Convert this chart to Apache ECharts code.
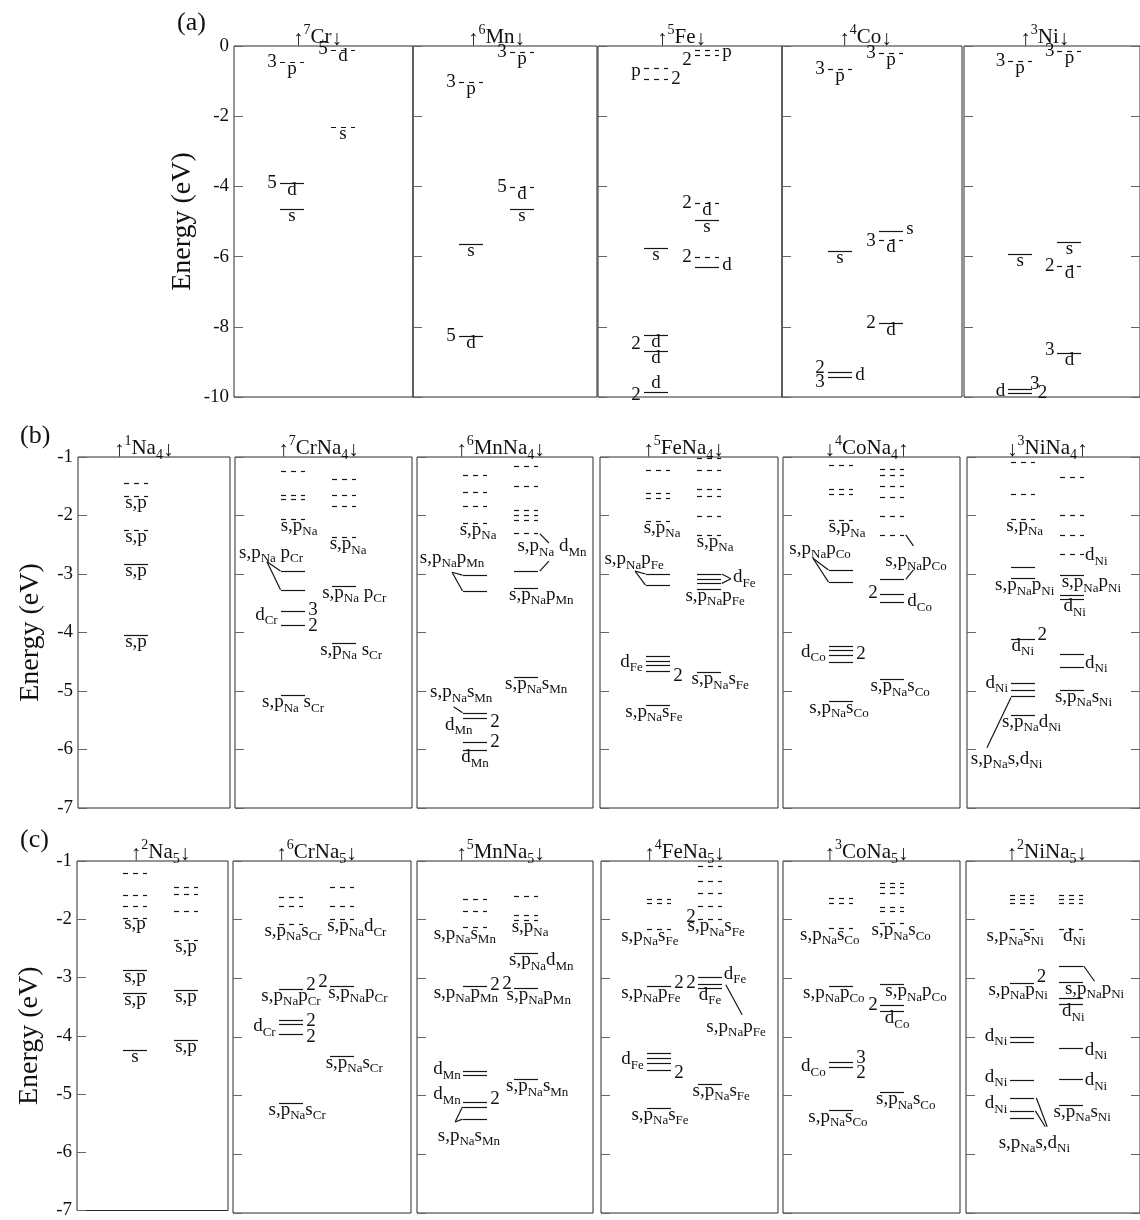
<!DOCTYPE html>
<html><head><meta charset="utf-8">
<script src="https://cdn.jsdelivr.net/npm/echarts@6/dist/echarts.min.js"></script>
<style>html,body{margin:0;padding:0;background:#fff}#c{width:1140px;height:1220px}</style>
</head><body><div id="c"></div>
<script>
// ---------- DATA: levels [spin column, energy (eV), dashed(1)/solid(0)] ----------
// ---------- labels [column, energy, text, place], links [c1,E1,c2,E2] ----------
const titlesA = ['~{↑}^{7}Cr~{↓}', '~{↑}^{6}Mn~{↓}', '~{↑}^{5}Fe~{↓}', '~{↑}^{4}Co~{↓}', '~{↑}^{3}Ni~{↓}'];
const titlesB = ['~{↑}^{1}Na_{4}~{↓}', '~{↑}^{7}CrNa_{4}~{↓}', '~{↑}^{6}MnNa_{4}~{↓}', '~{↑}^{5}FeNa_{4}~{↓}', '~{↓}^{4}CoNa_{4}~{↑}', '~{↓}^{3}NiNa_{4}~{↑}'];
const titlesC = ['~{↑}^{2}Na_{5}~{↓}', '~{↑}^{6}CrNa_{5}~{↓}', '~{↑}^{5}MnNa_{5}~{↓}', '~{↑}^{4}FeNa_{5}~{↓}', '~{↑}^{3}CoNa_{5}~{↓}', '~{↑}^{2}NiNa_{5}~{↓}'];
const ticksA = [-10, 0, 2];
const ticksBC = [-7, -1, 1];

// (a) atoms
const a_Cr_lv = [[0,-0.47,1],[1,-0.10,1],[1,-2.30,1],[0,-3.90,0],[0,-4.65,0]];
const a_Cr_lb = [[-0.3,-0.47,'3','l'],[0,-0.47,'p','b'],[0.7,-0.10,'5','l'],[1,-0.10,'d','b'],[1,-2.30,'s','b'],[-0.3,-3.90,'5','l'],[0,-3.90,'d','b'],[0,-4.65,'s','b']];
const a_Mn_lv = [[1,-0.16,1],[0,-1.03,1],[1,-4.03,1],[1,-4.65,0],[0,-5.65,0],[0,-8.27,0]];
const a_Mn_lb = [[0.7,-0.16,'3','l'],[1,-0.16,'p','b'],[-0.3,-1.03,'3','l'],[0,-1.03,'p','b'],[0.7,-4.03,'5','l'],[1,-4.03,'d','b'],[1,-4.65,'s','b'],[0,-5.65,'s','b'],[-0.3,-8.27,'5','l'],[0,-8.27,'d','b']];
const a_Fe_lv = [[1,-0.11,1],[1,-0.26,1],[0,-0.63,1],[0,-0.94,1],[1,-4.48,1],[1,-4.96,0],[0,-5.76,0],[1,-6.02,1],[1,-6.29,0],[0,-8.23,0],[0,-8.68,0],[0,-9.85,0]];
const a_Fe_lb = [[0.7,-0.40,'2','l'],[1.3,-0.18,'p','r'],[-0.3,-0.72,'p','l'],[0.3,-0.94,'2','r'],[0.7,-4.48,'2','l'],[1,-4.48,'d','b'],[1,-4.96,'s','b'],[0,-5.76,'s','b'],[0.7,-6.02,'2','l'],[1.3,-6.25,'d','r'],[-0.3,-8.50,'2','l'],[0,-8.23,'d','b'],[0,-8.68,'d','b'],[-0.3,-9.95,'2','l'],[0,-9.85,'d','a']];
const a_Co_lv = [[1,-0.20,1],[0,-0.66,1],[1,-5.27,0],[1,-5.53,1],[0,-5.84,0],[1,-7.90,0],[0,-9.29,0],[0,-9.43,0]];
const a_Co_lb = [[0.7,-0.20,'3','l'],[1,-0.20,'p','b'],[-0.3,-0.66,'3','l'],[0,-0.66,'p','b'],[1.3,-5.20,'s','r'],[0.7,-5.57,'3','l'],[1,-5.53,'d','b'],[0,-5.84,'s','b'],[0.7,-7.90,'2','l'],[1,-7.90,'d','b'],[-0.3,-9.16,'2','l'],[-0.3,-9.56,'3','l'],[0.3,-9.36,'d','r']];
const a_Ni_lv = [[0,-0.43,1],[1,-0.14,1],[0,-5.93,0],[1,-5.58,0],[1,-6.26,1],[1,-8.75,0],[0,-9.76,0],[0,-9.88,0]];
const a_Ni_lb = [[-0.3,-0.43,'3','l'],[0,-0.43,'p','b'],[0.7,-0.14,'3','l'],[1,-0.14,'p','b'],[0,-5.93,'s','b'],[1,-5.58,'s','b'],[0.7,-6.26,'2','l'],[1,-6.26,'d','b'],[0.7,-8.65,'3','l'],[1,-8.75,'d','b'],[-0.3,-9.84,'d','l'],[0.2,-9.62,'3','r'],[0.36,-9.88,'2','r']];

// (b) TMNa4
const b_Na_lv = [[0,-1.44,1],[0,-1.67,1],[0,-2.25,1],[0,-2.83,0],[0,-4.04,0]];
const b_Na_lb = [[0,-1.67,'s,p','b'],[0,-2.25,'s,p','b'],[0,-2.83,'s,p','b'],[0,-4.04,'s,p','b']];
const b_Cr_lv = [[0,-1.24,1],[0,-1.65,1],[0,-1.72,1],[0,-2.06,1],[0,-2.95,0],[0,-3.27,0],[0,-3.64,0],[0,-3.87,0],[0,-5.07,0],[1,-1.38,1],[1,-1.65,1],[1,-1.84,1],[1,-2.37,1],[1,-3.20,0],[1,-4.18,0]];
const b_Cr_lb = [[0.12,-2.06,'s,p_{Na}','b'],[-0.43,-2.64,'s,p_{Na} p_{Cr}','c'],[0.3,-3.62,'3','r'],[0.3,-3.89,'2','r'],[-0.3,-3.70,'d_{Cr}','l'],[0,-5.07,'s,p_{Na} s_{Cr}','b'],[1.08,-2.37,'s,p_{Na}','b'],[1.2,-3.20,'s,p_{Na} p_{Cr}','b'],[1.14,-4.18,'s,p_{Na} s_{Cr}','b']];
const b_Cr_lk = [[-0.51,-2.79,-0.245,-2.95],[-0.51,-2.79,-0.245,-3.27]];
const b_Mn_lv = [[0,-1.31,1],[0,-1.60,1],[0,-1.84,1],[0,-2.12,1],[0,-3.02,0],[0,-3.29,0],[0,-5.38,0],[0,-5.47,0],[0,-5.87,0],[0,-6.01,0],[1,-1.15,1],[1,-1.49,1],[1,-1.90,1],[1,-1.99,1],[1,-2.08,1],[1,-2.30,1],[1,-2.95,0],[1,-3.24,0],[1,-4.76,0]];
const b_Mn_lb = [[0.06,-2.12,'s,p_{Na}','b'],[-0.45,-2.72,'s,p_{Na}p_{Mn}','c'],[-0.27,-5.02,'s,p_{Na}s_{Mn}','c'],[-0.05,-5.58,'d_{Mn}','l'],[0.3,-5.53,'2','r'],[0.3,-5.87,'2','r'],[0,-6.01,'d_{Mn}','b'],[1.51,-2.53,'s,p_{Na} d_{Mn}','c'],[1.3,-3.24,'s,p_{Na}p_{Mn}','b'],[1.2,-4.76,'s,p_{Na}s_{Mn}','b']];
const b_Mn_lk = [[-0.45,-2.97,-0.245,-3.02],[-0.45,-2.97,-0.245,-3.29],[-0.42,-5.27,-0.245,-5.37],[1.27,-2.31,1.45,-2.47],[1.27,-2.95,1.45,-2.78]];
const b_Fe_lv = [[0,-1.22,1],[0,-1.62,1],[0,-1.70,1],[0,-2.09,1],[0,-3.00,0],[0,-3.19,0],[0,-4.40,0],[0,-4.48,0],[0,-4.56,0],[0,-4.66,0],[0,-5.24,0],[1,-1.02,1],[1,-1.22,1],[1,-1.55,1],[1,-1.67,1],[1,-2.01,1],[1,-2.33,1],[1,-3.00,0],[1,-3.08,0],[1,-3.16,0],[1,-3.25,0],[1,-4.68,0]];
const b_Fe_lb = [[0.08,-2.09,'s,p_{Na}','b'],[-0.47,-2.75,'s,p_{Na}p_{Fe}','c'],[-0.3,-4.50,'d_{Fe}','l'],[0.3,-4.74,'2','r'],[-0.08,-5.24,'s,p_{Na}s_{Fe}','b'],[1.12,-2.33,'s,p_{Na}','b'],[1.47,-3.06,'d_{Fe}','r'],[1.12,-3.25,'s,p_{Na}p_{Fe}','b'],[1.22,-4.68,'s,p_{Na}s_{Fe}','b']];
const b_Fe_lk = [[-0.45,-2.95,-0.245,-3.00],[-0.45,-2.95,-0.245,-3.19],[1.25,-3.00,1.43,-3.08],[1.25,-3.16,1.43,-3.08]];
const b_Co_lv = [[0,-1.14,1],[0,-1.55,1],[0,-1.63,1],[0,-2.08,1],[0,-2.93,0],[0,-3.14,0],[0,-4.23,0],[0,-4.30,0],[0,-4.38,0],[0,-4.50,0],[0,-5.17,0],[1,-1.21,1],[1,-1.30,1],[1,-1.50,1],[1,-1.69,1],[1,-2.01,1],[1,-2.33,1],[1,-3.09,0],[1,-3.34,0],[1,-3.48,0],[1,-4.80,0]];
const b_Co_lb = [[0.12,-2.08,'s,p_{Na}','b'],[-0.41,-2.57,'s,p_{Na}p_{Co}','c'],[-0.3,-4.33,'d_{Co}','l'],[0.3,-4.36,'2','r'],[-0.04,-5.17,'s,p_{Na}s_{Co}','b'],[1.47,-2.77,'s,p_{Na}p_{Co}','c'],[0.72,-3.33,'2','l'],[1.3,-3.47,'d_{Co}','r'],[1.16,-4.80,'s,p_{Na}s_{Co}','b']];
const b_Co_lk = [[-0.55,-2.73,-0.245,-2.93],[-0.55,-2.73,-0.245,-3.14],[1.27,-2.33,1.42,-2.52],[1.27,-3.09,1.42,-2.93]];
const b_Ni_lv = [[0,-1.09,1],[0,-1.63,1],[0,-2.06,1],[0,-2.88,0],[0,-3.07,0],[0,-4.11,0],[0,-4.86,0],[0,-4.98,0],[0,-5.09,0],[0,-5.41,0],[1,-1.34,1],[1,-1.99,1],[1,-2.33,1],[1,-2.66,1],[1,-3.02,0],[1,-3.36,0],[1,-3.43,0],[1,-4.37,0],[1,-4.59,0],[1,-4.98,0]];
const b_Ni_lb = [[0.04,-2.06,'s,p_{Na}','b'],[0.04,-3.07,'s,p_{Na}p_{Ni}','b'],[0.3,-4.05,'2','r'],[0,-4.11,'d_{Ni}','b'],[-0.3,-4.86,'d_{Ni}','l'],[0.18,-5.41,'s,p_{Na}d_{Ni}','b'],[-0.33,-6.16,'s,p_{Na}s,d_{Ni}','c'],[1.27,-2.68,'d_{Ni}','r'],[1.4,-3.02,'s,p_{Na}p_{Ni}','b'],[1.06,-3.43,'d_{Ni}','b'],[1.27,-4.52,'d_{Ni}','r'],[1.24,-4.98,'s,p_{Na}s_{Ni}','b']];
const b_Ni_lk = [[-0.24,-5.11,-0.73,-5.97]];

// (c) TMNa5
const c_Na_lv = [[0,-1.20,1],[0,-1.58,1],[0,-1.78,1],[0,-1.97,1],[0,-2.87,0],[0,-3.27,0],[0,-4.24,0],[1,-1.44,1],[1,-1.56,1],[1,-1.86,1],[1,-2.36,1],[1,-3.21,0],[1,-4.07,0]];
const c_Na_lb = [[0,-1.97,'s,p','b'],[0,-2.87,'s,p','b'],[0,-3.27,'s,p','b'],[0,-4.24,'s','b'],[1,-2.36,'s,p','b'],[1,-3.21,'s,p','b'],[1,-4.07,'s,p','b']];
const c_Cr_lv = [[0,-1.61,1],[0,-1.77,1],[0,-2.07,1],[0,-3.18,0],[0,-3.71,0],[0,-3.78,0],[0,-3.95,0],[0,-5.12,0],[1,-1.45,1],[1,-1.77,1],[1,-1.99,1],[1,-3.13,0],[1,-4.32,0]];
const c_Cr_lb = [[0.04,-2.07,'s,p_{Na}s_{Cr}','b'],[0,-3.18,'s,p_{Na}p_{Cr}','b'],[0.3,-3.12,'2','r'],[-0.3,-3.82,'d_{Cr}','l'],[0.3,-3.72,'2','r'],[0.3,-4.00,'2','r'],[0.12,-5.12,'s,p_{Na}s_{Cr}','b'],[1.29,-1.99,'s,p_{Na}d_{Cr}','b'],[0.72,-3.06,'2','l'],[1.31,-3.13,'s,p_{Na}p_{Cr}','b'],[1.24,-4.32,'s,p_{Na}s_{Cr}','b']];
const c_Mn_lv = [[0,-1.64,1],[0,-1.85,1],[0,-2.12,1],[0,-3.13,0],[0,-4.58,0],[0,-4.65,0],[0,-5.10,0],[0,-5.19,0],[0,-5.40,0],[1,-1.60,1],[1,-1.92,1],[1,-2.00,1],[1,-2.57,0],[1,-3.16,0],[1,-4.72,0]];
const c_Mn_lb = [[-0.2,-2.12,'s,p_{Na}s_{Mn}','b'],[-0.18,-3.13,'s,p_{Na}p_{Mn}','b'],[0.3,-3.12,'2','r'],[-0.28,-4.55,'d_{Mn}','l'],[-0.28,-4.98,'d_{Mn}','l'],[0.3,-5.06,'2','r'],[-0.12,-5.68,'s,p_{Na}s_{Mn}','c'],[1.08,-2.00,'s,p_{Na}','b'],[1.3,-2.57,'s,p_{Na}d_{Mn}','b'],[0.72,-3.10,'2','l'],[1.25,-3.16,'s,p_{Na}p_{Mn}','b'],[1.22,-4.72,'s,p_{Na}s_{Mn}','b']];
const c_Mn_lk = [[-0.39,-5.45,-0.245,-5.19],[-0.39,-5.45,-0.245,-5.40]];
const c_Fe_lv = [[0,-1.65,1],[0,-1.72,1],[0,-2.16,1],[0,-3.13,0],[0,-4.27,0],[0,-4.36,0],[0,-4.44,0],[0,-4.56,0],[0,-5.21,0],[1,-1.09,1],[1,-1.34,1],[1,-1.55,1],[1,-1.77,1],[1,-1.99,1],[1,-2.98,0],[1,-3.10,0],[1,-3.16,0],[1,-4.80,0]];
const c_Fe_lb = [[-0.18,-2.16,'s,p_{Na}s_{Fe}','b'],[-0.16,-3.13,'s,p_{Na}p_{Fe}','b'],[0.3,-3.08,'2','r'],[-0.3,-4.38,'d_{Fe}','l'],[0.3,-4.62,'2','r'],[0.02,-5.21,'s,p_{Na}s_{Fe}','b'],[0.72,-1.95,'2','l'],[1.12,-1.99,'s,p_{Na}s_{Fe}','b'],[0.72,-3.08,'2','l'],[1.27,-2.92,'d_{Fe}','r'],[1.0,-3.16,'d_{Fe}','b'],[1.51,-3.83,'s,p_{Na}p_{Fe}','c'],[1.22,-4.80,'s,p_{Na}s_{Fe}','b']];
const c_Fe_lk = [[1.31,-3.11,1.63,-3.62]];
const c_Co_lv = [[0,-1.63,1],[0,-1.72,1],[0,-2.14,1],[0,-3.13,0],[0,-4.42,0],[0,-4.51,0],[0,-5.24,0],[1,-1.37,1],[1,-1.44,1],[1,-1.55,1],[1,-1.78,1],[1,-1.85,1],[1,-2.06,1],[1,-3.10,0],[1,-3.45,0],[1,-3.56,0],[1,-4.94,0]];
const c_Co_lb = [[-0.22,-2.14,'s,p_{Na}s_{Co}','b'],[-0.14,-3.13,'s,p_{Na}p_{Co}','b'],[-0.3,-4.50,'d_{Co}','l'],[0.3,-4.36,'3','r'],[0.3,-4.62,'2','r'],[-0.06,-5.24,'s,p_{Na}s_{Co}','b'],[1.18,-2.06,'s,p_{Na}s_{Co}','b'],[1.47,-3.10,'s,p_{Na}p_{Co}','b'],[0.72,-3.45,'2','l'],[1.1,-3.56,'d_{Co}','b'],[1.27,-4.94,'s,p_{Na}s_{Co}','b']];
const c_Ni_lv = [[0,-1.58,1],[0,-1.65,1],[0,-1.72,1],[0,-2.16,1],[0,-3.08,0],[0,-4.00,0],[0,-4.08,0],[0,-4.73,0],[0,-5.04,0],[0,-5.26,0],[0,-5.38,0],[1,-1.58,1],[1,-1.65,1],[1,-1.72,1],[1,-2.16,1],[1,-2.79,0],[1,-3.06,0],[1,-3.33,0],[1,-3.44,0],[1,-4.19,0],[1,-4.71,0],[1,-5.16,0]];
const c_Ni_lb = [[-0.14,-2.16,'s,p_{Na}s_{Ni}','b'],[-0.08,-3.08,'s,p_{Na}p_{Ni}','b'],[0.3,-2.98,'2','r'],[-0.3,-3.98,'d_{Ni}','l'],[-0.3,-4.68,'d_{Ni}','l'],[-0.3,-5.13,'d_{Ni}','l'],[0.25,-5.80,'s,p_{Na}s,d_{Ni}','c'],[1.06,-2.16,'d_{Ni}','b'],[1.47,-3.06,'s,p_{Na}p_{Ni}','b'],[1.04,-3.44,'d_{Ni}','b'],[1.27,-4.22,'d_{Ni}','r'],[1.27,-4.74,'d_{Ni}','r'],[1.22,-5.16,'s,p_{Na}s_{Ni}','b']];
const c_Ni_lk = [[0.29,-5.04,0.51,-5.53],[0.27,-5.26,0.47,-5.53],[1.25,-2.79,1.47,-3.05]];

// ---------- LAYOUT ----------
const FF = '"Liberation Serif","Times New Roman",serif';
const COL0 = 58, STEP = 51, HW = 0.245;
const rows = [
  {top:46, height:351, ticks:ticksA, nameGap:37, tag:'(a)', tagX:177, tagY:10, panels:[
    {left:234,width:179,lv:a_Cr_lv,lb:a_Cr_lb,lk:[],t:titlesA[0],tc:0.5},
    {left:413,width:184,lv:a_Mn_lv,lb:a_Mn_lb,lk:[],t:titlesA[1],tc:0.5},
    {left:598,width:184,lv:a_Fe_lv,lb:a_Fe_lb,lk:[],t:titlesA[2],tc:0.5},
    {left:782,width:180,lv:a_Co_lv,lb:a_Co_lb,lk:[],t:titlesA[3],tc:0.5},
    {left:964,width:182,lv:a_Ni_lv,lb:a_Ni_lb,lk:[],t:titlesA[4],tc:0.5}]},
  {top:457, height:351, ticks:ticksBC, nameGap:33, tag:'(b)', tagX:20, tagY:423, panels:[
    {left:78,width:152,lv:b_Na_lv,lb:b_Na_lb,lk:[],t:titlesB[0],tc:0.15},
    {left:235,width:177,lv:b_Cr_lv,lb:b_Cr_lb,lk:b_Cr_lk,t:titlesB[1],tc:0.5},
    {left:417,width:176,lv:b_Mn_lv,lb:b_Mn_lb,lk:b_Mn_lk,t:titlesB[2],tc:0.5},
    {left:600,width:178,lv:b_Fe_lv,lb:b_Fe_lb,lk:b_Fe_lk,t:titlesB[3],tc:0.5},
    {left:783,width:177,lv:b_Co_lv,lb:b_Co_lb,lk:b_Co_lk,t:titlesB[4],tc:0.5},
    {left:967,width:180,lv:b_Ni_lv,lb:b_Ni_lb,lk:b_Ni_lk,t:titlesB[5],tc:0.5}]},
  {top:861, height:352, ticks:ticksBC, nameGap:33, tag:'(c)', tagX:20, tagY:827, panels:[
    {left:77,width:151,lv:c_Na_lv,lb:c_Na_lb,lk:[],t:titlesC[0],tc:0.5},
    {left:233,width:178,lv:c_Cr_lv,lb:c_Cr_lb,lk:[],t:titlesC[1],tc:0.5},
    {left:417,width:176,lv:c_Mn_lv,lb:c_Mn_lb,lk:c_Mn_lk,t:titlesC[2],tc:0.5},
    {left:601,width:177,lv:c_Fe_lv,lb:c_Fe_lb,lk:c_Fe_lk,t:titlesC[3],tc:0.5},
    {left:783,width:177,lv:c_Co_lv,lb:c_Co_lb,lk:[],t:titlesC[4],tc:0.5},
    {left:966,width:180,lv:c_Ni_lv,lb:c_Ni_lb,lk:c_Ni_lk,t:titlesC[5],tc:0.5}]}
];

function toRich(s) {
  let out = '', last = 0, m;
  const re = /([_^~])\{([^}]*)\}/g;
  while ((m = re.exec(s))) {
    if (m.index > last) out += '{b|' + s.slice(last, m.index) + '}';
    out += '{' + (m[1] === '_' ? 'sub' : m[1] === '^' ? 'sup' : 'ar') + '|' + m[2] + '}';
    last = re.lastIndex;
  }
  if (last < s.length) out += '{b|' + s.slice(last) + '}';
  return out;
}
const INK = '#111';
const LR = {
  b: {font: '19px ' + FF, fill: INK, lineHeight: 20},
  sub: {font: '13px ' + FF, fill: INK, height: 8, verticalAlign: 'bottom'},
  sup: {font: '13px ' + FF, fill: INK, height: 8, verticalAlign: 'top'},
  ar: {font: '15px ' + FF, fill: INK}
};
const TR = {
  b: {font: '21px ' + FF, fill: INK, lineHeight: 24},
  sub: {font: '14px ' + FF, fill: INK, height: 10, verticalAlign: 'bottom'},
  sup: {font: '14px ' + FF, fill: INK, height: 10, verticalAlign: 'top'},
  ar: {font: '21px ' + FF, fill: INK, height: 20, verticalAlign: 'bottom'}
};

const grids = [], xAxes = [], yAxes = [], extraY = [], series = [], graphics = [];
let gi = 0;
rows.forEach((row) => {
  graphics.push({type: 'text', left: row.tagX, top: row.tagY, style: {text: row.tag, font: '26px ' + FF, fill: INK}});
  const [ymin, ymax, step] = row.ticks;
  row.panels.forEach((p, pi) => {
    const first = pi === 0, last = pi === row.panels.length - 1;
    grids.push({left: p.left, top: row.top, width: p.width, height: row.height, show: true,
      borderColor: '#2a2a2a', borderWidth: 1, backgroundColor: 'rgba(0,0,0,0)'});
    xAxes.push({type: 'value', gridIndex: gi, min: -COL0 / STEP, max: (p.width - COL0) / STEP, show: false});
    const yBase = {type: 'value', gridIndex: gi, min: ymin, max: ymax, interval: step,
      axisLine: {show: false, onZero: false}, splitLine: {show: false},
      axisTick: {show: true, inside: true, length: 9, lineStyle: {color: '#666', width: 1}}};
    yAxes.push(Object.assign({}, yBase, {position: 'left',
      axisLabel: {show: first, fontFamily: FF, fontSize: 19, color: INK, margin: 5, showMinLabel: true, showMaxLabel: true},
      name: first ? 'Energy (eV)' : '', nameLocation: 'middle', nameGap: row.nameGap, nameRotate: 90,
      nameTextStyle: {fontFamily: FF, fontSize: 28, color: INK}}));
    if (last) extraY.push(Object.assign({}, yBase, {position: 'right', axisLabel: {show: false}}));
    const axis = {xAxisIndex: gi, yAxisIndex: gi, coordinateSystem: 'cartesian2d', silent: true, animation: false, clip: false};
    // energy levels
    series.push(Object.assign({type: 'custom', data: p.lv.map(d => [d[0], d[1], d[2]]),
      renderItem: (params, api) => {
        const c = api.value(0), e = api.value(1), dashed = api.value(2) === 1;
        const a = api.coord([c - HW, e]), b = api.coord([c + HW, e]);
        const y = Math.round(a[1]) + 0.5;
        const style = {stroke: '#161616', lineWidth: 1.2};
        if (dashed) style.lineDash = [5, 5];
        return {type: 'line', shape: {x1: Math.round(a[0]), y1: y, x2: Math.round(b[0]), y2: y}, style};
      }}, axis));
    // connector lines
    if (p.lk.length) series.push(Object.assign({type: 'custom', data: p.lk.map(d => d.slice()),
      renderItem: (params, api) => {
        const a = api.coord([api.value(0), api.value(1)]), b = api.coord([api.value(2), api.value(3)]);
        return {type: 'line', shape: {x1: a[0], y1: a[1], x2: b[0], y2: b[1]}, style: {stroke: '#161616', lineWidth: 1.2}};
      }}, axis));
    // level labels
    series.push(Object.assign({type: 'custom', data: p.lb.map(d => [d[0], d[1]]),
      renderItem: (params, api) => {
        const item = p.lb[params.dataIndex];
        const pt = api.coord([api.value(0), api.value(1)]);
        let align = 'center', va = 'middle', y = pt[1];
        if (item[3] === 'b') { va = 'top'; y = pt[1] - 3; }
        else if (item[3] === 'a') { va = 'bottom'; y = pt[1] + 1; }
        else if (item[3] === 'l') align = 'right';
        else if (item[3] === 'r') align = 'left';
        return {type: 'text', x: pt[0], y: y, style: {text: toRich(item[2]), rich: LR, font: '19px ' + FF, fill: INK, align: align, verticalAlign: va}};
      }}, axis));
    // panel title
    series.push(Object.assign({type: 'custom', data: [[p.tc, ymax]],
      renderItem: (params, api) => {
        const pt = api.coord([api.value(0), api.value(1)]);
        return {type: 'text', x: pt[0], y: pt[1] + 3, style: {text: toRich(p.t), rich: TR, font: '21px ' + FF, fill: INK, align: 'center', verticalAlign: 'bottom'}};
      }}, axis));
    gi++;
  });
});

const chart = echarts.init(document.getElementById('c'), null, {renderer: 'canvas'});
chart.setOption({
  backgroundColor: '#ffffff',
  animation: false,
  grid: grids,
  xAxis: xAxes,
  yAxis: yAxes.concat(extraY),
  series: series,
  graphic: graphics
});
</script></body></html>
